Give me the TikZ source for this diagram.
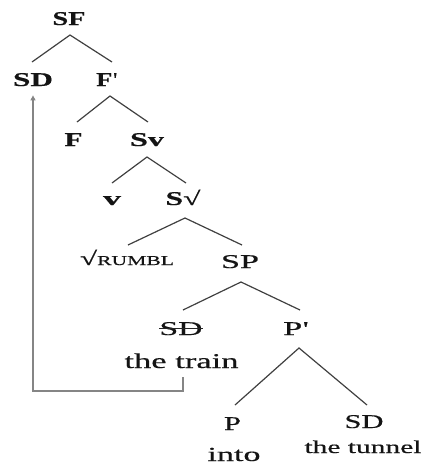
\documentclass[tikz,border=0pt]{standalone}
\usepackage{fontspec}
\setmainfont{Liberation Serif}[Ligatures=TeXOff, FakeBold=0.4]
\usetikzlibrary{arrows.meta}
% text set to a given width, natural height
\newcommand\hx[2]{\resizebox{#1pt}{\height}{#2}}
\begin{document}
\begin{tikzpicture}[x=1pt,y=-1pt,
  lab/.style={inner sep=0pt, anchor=base, text=black!92},
  hd/.style={lab, font=\bfseries\fontsize{19.5}{19.5}\selectfont},
  tx/.style={lab, font=\fontsize{19.5}{19.5}\selectfont},
  br/.style={draw=black!75, line width=1.2pt},
  mv/.style={draw=black!48, line width=1.4pt, -{Triangle[length=5pt,width=5pt]}}]
\useasboundingbox (0,0) rectangle (422,464);

% labels of the tree
\node[hd] (SF)  at (69,25)   {\hx{33}{SF}};
\node[hd] (SDa) at (33,86)   {\hx{40}{SD}};
\node[hd] (Fb)  at (107,86)  {\hx{16}{F}\kern0.5pt\hx{5}{'}};
\node[hd] (F)   at (73.5,146) {\hx{18}{F}};
\node[hd] (Sv)  at (147,146) {\hx{34}{Sv}};
\node[hd] (v)   at (112,205) {\hx{18}{v}};
\node[hd] (Sr)  at (183,205) {\hx{35}{S√}};
\node[tx] (root) at (127,265) {\hx{94}{√{\fontsize{13.5}{13.5}\selectfont RUMBL}}};
\node[tx] (SP)  at (240,268) {\hx{38}{SP}};
\node[tx] (SDs) at (181,335) {\hx{43}{SD}};
\node[tx, font=\fontsize{21}{21}\selectfont] (TR) at (181.5,368) {\hx{114}{the train}};
\node[tx] (Pb)  at (296,335) {\hx{19}{P}\kern0.5pt\hx{6}{'}};
\node[tx] (P)   at (232.5,430) {\hx{17}{P}};
\node[tx, font=\fontsize{20}{20}\selectfont] (into) at (234,461) {\hx{53}{into}};
\node[tx] (SDc) at (364,428) {\hx{39}{SD}};
\node[tx, font=\fontsize{18}{18}\selectfont] (TT) at (363,453) {\hx{117}{the tunnel}};

% struck-out copy
\draw[black!85, line width=1pt] ([yshift=7pt]SDs.base west) -- ([yshift=7pt]SDs.base east);

% branch end points
\coordinate (SF-b) at (70,35);   \coordinate (SDa-t) at (32,62);  \coordinate (Fb-t) at (112,62);
\coordinate (Fb-b) at (110,96);  \coordinate (F-t) at (77,122);   \coordinate (Sv-t) at (148,122);
\coordinate (Sv-b) at (147,157); \coordinate (v-t) at (112,183);  \coordinate (Sr-t) at (186,183);
\coordinate (Sr-b) at (185,218); \coordinate (root-t) at (128,245); \coordinate (SP-t) at (242,245);
\coordinate (SP-b) at (241,282); \coordinate (SDs-t) at (183,310); \coordinate (Pb-t) at (300,310);
\coordinate (Pb-b) at (299,348); \coordinate (P-t) at (235,405);  \coordinate (SDc-t) at (367,405);

\draw[br] (SDa-t) -- (SF-b) -- (Fb-t);
\draw[br] (F-t) -- (Fb-b) -- (Sv-t);
\draw[br] (v-t) -- (Sv-b) -- (Sr-t);
\draw[br] (root-t) -- (Sr-b) -- (SP-t);
\draw[br] (SDs-t) -- (SP-b) -- (Pb-t);
\draw[br] (P-t) -- (Pb-b) -- (SDc-t);

% movement of the subject
\coordinate (mv-c) at (183,391);
\draw[mv] ([xshift=1.5pt,yshift=-9pt]TR.south) -- (mv-c) -| ([yshift=-9pt]SDa.south);
\end{tikzpicture}
\end{document}
